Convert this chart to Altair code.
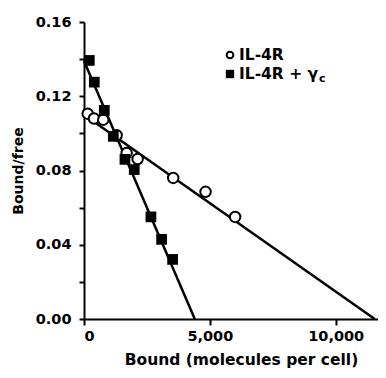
import altair as alt
import pandas as pd

# IL-4R (open circles)
il4r_bound = [147, 397, 766, 1297, 1694, 2131, 3544, 4829, 6004]
il4r_bf = [0.1106, 0.1080, 0.1074, 0.0990, 0.0894, 0.0862, 0.0760, 0.0685, 0.0550]
# IL-4R + gamma c (filled squares)
gc_bound = [211, 409, 806, 1164, 1627, 1996, 2659, 3083, 3520]
gc_bf = [0.1393, 0.1276, 0.1124, 0.0984, 0.0860, 0.0805, 0.0550, 0.0429, 0.0321]
# fitted Scatchard lines (end points)
il4r_fit_x = [0, 11550]
il4r_fit_y = [0.110, 0.0]
gc_fit_x = [0, 4400]
gc_fit_y = [0.139, 0.0]

y_ticks = [0.0, 0.02, 0.04, 0.06, 0.08, 0.10, 0.12, 0.14, 0.16]
x_ticks = [0, 5000, 10000]
legend_labels = ["IL-4R", "IL-4R + γ"]
legend_sub = "c"

FONT = "DejaVu Sans"

pts1 = pd.DataFrame({"x": il4r_bound, "y": il4r_bf})
pts2 = pd.DataFrame({"x": gc_bound, "y": gc_bf})
fit = pd.DataFrame({
    "x": il4r_fit_x + gc_fit_x,
    "y": il4r_fit_y + gc_fit_y,
    "s": ["a", "a", "b", "b"],
})

xs = alt.Scale(domain=[0, 11680], nice=False)
ys = alt.Scale(domain=[0, 0.16], nice=False)

xaxis = alt.Axis(
    values=x_ticks, title="Bound (molecules per cell)",
    labelExpr="format(datum.value, ',')",
    tickSize=6, labelPadding=4, titlePadding=10, titleX=157, titleAnchor="middle",
)
yaxis = alt.Axis(
    values=y_ticks, title="Bound/free",
    labelExpr="round(datum.value*100) % 4 == 0 ? format(datum.value, '.2f') : ''",
    tickSize=5, labelPadding=8, titlePadding=10, titleFontSize=14,
)
xenc = alt.X("x:Q", scale=xs, axis=xaxis)
yenc = alt.Y("y:Q", scale=ys, axis=yaxis)

lines = alt.Chart(fit).mark_line(color="black", strokeWidth=2.5).encode(
    x=xenc, y=yenc, detail="s:N")

circ = alt.Chart(pts1).mark_point(shape="circle", size=110, filled=True, fill="white",
                                   stroke="black", strokeWidth=2, opacity=1).encode(x=xenc, y=yenc)
sq = alt.Chart(pts2).mark_point(shape="square", size=115, filled=True, color="black",
                                 opacity=1).encode(x=xenc, y=yenc)

leg_df = pd.DataFrame({"label": legend_labels, "row": [0, 1]})
leg_c = alt.Chart(leg_df[leg_df.row == 0]).mark_point(
    shape="circle", size=45, filled=True, fill="white", stroke="black", strokeWidth=2, opacity=1
).encode(x=alt.value(146), y=alt.value(33))
leg_s = alt.Chart(leg_df[leg_df.row == 1]).mark_point(
    shape="square", size=70, filled=True, color="black", opacity=1
).encode(x=alt.value(146), y=alt.value(52))
leg_t1 = alt.Chart(leg_df[leg_df.row == 0]).mark_text(
    align="left", baseline="middle", font=FONT, fontSize=15.5, fontWeight="bold", color="black"
).encode(x=alt.value(155), y=alt.value(33), text="label:N")
leg_t2 = alt.Chart(leg_df[leg_df.row == 1]).mark_text(
    align="left", baseline="middle", font=FONT, fontSize=15.5, fontWeight="bold", color="black"
).encode(x=alt.value(155), y=alt.value(52), text="label:N")
leg_sub = alt.Chart(pd.DataFrame({"t": [legend_sub]})).mark_text(
    align="left", baseline="middle", font=FONT, fontSize=11, fontWeight="bold", color="black"
).encode(x=alt.value(235), y=alt.value(57), text="t:N")

chart = alt.layer(lines, circ, sq, leg_c, leg_s, leg_t1, leg_t2, leg_sub).properties(
    width=294, height=297,
    autosize=alt.AutoSizeParams(type="none"),
    padding={"left": 76, "top": 14, "right": 0, "bottom": 51},
).configure_view(stroke=None).configure_axis(
    grid=False, domainColor="black", domainWidth=2, tickColor="black", tickWidth=2,
    labelColor="black", labelFont=FONT, labelFontSize=14.5, labelFontWeight="bold",
    titleColor="black", titleFont=FONT, titleFontSize=15.5, titleFontWeight="bold",
)

chart.save("out.html", embed_options={"renderer": "svg", "actions": False})
